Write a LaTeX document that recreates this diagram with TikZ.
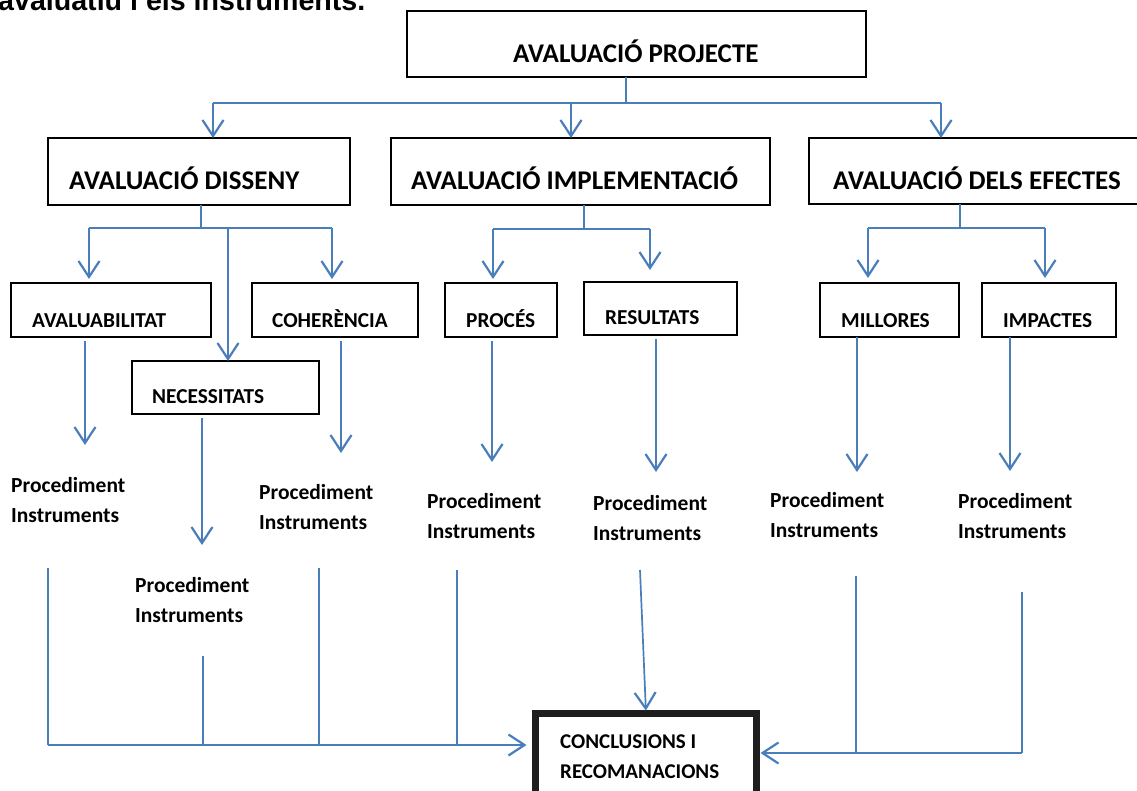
\documentclass[tikz,border=0pt]{standalone}
\usepackage{fontspec}
\setmainfont{Carlito}
\newfontfamily\arialfont{Liberation Sans}
\usetikzlibrary{arrows.meta}
\definecolor{lineblue}{RGB}{74,126,187}
\definecolor{darkbox}{RGB}{30,30,30}
\begin{document}
\begin{tikzpicture}[x=1pt,y=-1pt,
  box/.style={draw=black, line width=1.3pt, anchor=north west, inner sep=0pt, outer sep=0pt},
  hA/.style={font=\bfseries\fontsize{27}{31}\selectfont, anchor=base west, inner sep=0pt},
  hB/.style={font=\bfseries\fontsize{21.3}{25}\selectfont, anchor=base west, inner sep=0pt},
  ptxt/.style={font=\bfseries\fontsize{21.5}{26}\selectfont, anchor=base west, inner sep=0pt},
  ctxt/.style={font=\bfseries\fontsize{21}{25}\selectfont, anchor=base west, inner sep=0pt},
  conn/.style={draw=lineblue, line width=2.2pt},
  thinconn/.style={draw=lineblue, line width=1.7pt},
  arr/.style={conn, -{Straight Barb[length=16pt,width=21pt,line width=2.2pt]}},
  thinarr/.style={thinconn, -{Straight Barb[length=16pt,width=21pt,line width=2.2pt]}}
]
\useasboundingbox (0,0) rectangle (1137,791);

% partial title at top
\node[font=\arialfont\bfseries\fontsize{28.6}{31}\selectfont, anchor=base west, inner sep=0pt] (title) at (-2,11) {avaluatiu i els instruments.};

% boxes
\node[box, minimum width=459pt, minimum height=66pt] (top) at (407,11) {};
\node[box, minimum width=302pt, minimum height=67pt] (dis) at (48,138) {};
\node[box, minimum width=379pt, minimum height=67pt] (imp) at (391,138) {};
\node[box, minimum width=340pt, minimum height=66pt] (efe) at (809,138) {};
\node[box, minimum width=200pt, minimum height=54pt] (aval) at (11,283) {};
\node[box, minimum width=166pt, minimum height=54pt] (coh) at (252,283) {};
\node[box, minimum width=187pt, minimum height=53pt] (nec) at (132,361) {};
\node[box, minimum width=112pt, minimum height=54pt] (proc) at (445,283) {};
\node[box, minimum width=153pt, minimum height=53pt] (res) at (584,282) {};
\node[box, minimum width=139pt, minimum height=54pt] (mil) at (820,283) {};
\node[box, minimum width=134pt, minimum height=54pt] (imc) at (982,283) {};
\node[box, draw=darkbox, line width=7pt, minimum width=221pt, minimum height=120pt] (conc) at (535.5,713.5) {};

% box texts
\node[hA] (topt) at (513,63) {AVALUACIÓ PROJECTE};
\node[hA] (dist) at (69,190) {AVALUACIÓ DISSENY};
\node[hA] (impt) at (411,190) {AVALUACIÓ IMPLEMENTACIÓ};
\node[hA] (efet) at (833,190) {AVALUACIÓ DELS EFECTES};
\node[hB] (avalt) at (32,327) {AVALUABILITAT};
\node[hB] (coht) at (272,327) {COHERÈNCIA};
\node[hB] (nect) at (152,403) {NECESSITATS};
\node[hB] (proct) at (466,327) {PROCÉS};
\node[hB] (rest) at (605,325) {RESULTATS};
\node[hB] (milt) at (841,327) {MILLORES};
\node[hB] (imct) at (1003,327) {IMPACTES};
\node[ctxt] (conct1) at (560,748) {CONCLUSIONS I};
\node[ctxt] (conct2) at (560,778) {RECOMANACIONS};

% Procediment / Instruments texts
\node[ptxt] (pa1) at (11,492) {Procediment};
\node[ptxt] (pa2) at (11,522) {Instruments};
\node[ptxt] (pb1) at (135,592) {Procediment};
\node[ptxt] (pb2) at (135,622) {Instruments};
\node[ptxt] (pc1) at (259,499) {Procediment};
\node[ptxt] (pc2) at (259,529) {Instruments};
\node[ptxt] (pd1) at (427,508) {Procediment};
\node[ptxt] (pd2) at (427,538) {Instruments};
\node[ptxt] (pe1) at (593,510) {Procediment};
\node[ptxt] (pe2) at (593,540) {Instruments};
\node[ptxt] (pf1) at (770,507) {Procediment};
\node[ptxt] (pf2) at (770,537) {Instruments};
\node[ptxt] (pg1) at (958,508) {Procediment};
\node[ptxt] (pg2) at (958,538) {Instruments};

% level 0 -> level 1
\coordinate (s0) at (626,103);
\coordinate (t1) at (213,103);
\coordinate (t2) at (571,103);
\coordinate (t3) at (941,103);
\draw[conn] (s0 |- top.south) -- (s0);
\draw[conn] (t1) -- (t3);
\draw[arr] (t1) -- (t1 |- dis.north);
\draw[arr] (t2) -- (t2 |- imp.north);
\draw[arr] (t3) -- (t3 |- efe.north);

% disseny
\coordinate (d0) at (201,228);
\coordinate (d1) at (89,228);
\coordinate (d2) at (228,228);
\coordinate (d3) at (332,228);
\draw[conn] (d0 |- dis.south) -- (d0);
\draw[conn] (d1) -- (d3);
\draw[arr, shorten >=4pt] (d1) -- (d1 |- aval.north);
\draw[arr, shorten >=4pt] (d3) -- (d3 |- coh.north);
\draw[arr] (d2) -- (d2 |- nec.north);

% implementacio
\coordinate (i0) at (584,229);
\coordinate (i1) at (493,229);
\coordinate (i2) at (650,229);
\draw[conn] (i0 |- imp.south) -- (i0);
\draw[conn] (i1) -- (i2);
\draw[arr, shorten >=4pt] (i1) -- (i1 |- proc.north);
\draw[arr, shorten >=12pt] (i2) -- (i2 |- res.north);

% efectes
\coordinate (e0) at (960,228);
\coordinate (e1) at (868,228);
\coordinate (e2) at (1045,228);
\draw[conn] (e0 |- efe.south) -- (e0);
\draw[conn] (e1) -- (e2);
\draw[arr, shorten >=5pt] (e1) -- (e1 |- mil.north);
\draw[arr, shorten >=5pt] (e2) -- (e2 |- imc.north);

% stems to procediment texts
\coordinate (p1) at (85,445);
\coordinate (p2) at (202,545);
\coordinate (p3) at (341,453);
\coordinate (p4) at (492,462);
\coordinate (p5) at (656,472);
\coordinate (p6) at (857,472);
\coordinate (p7) at (1010,471);
\draw[arr] ([yshift=-4pt]p1 |- aval.south) -- (p1);
\draw[arr] ([yshift=-4pt]p2 |- nec.south) -- (p2);
\draw[arr] ([yshift=-4pt]p3 |- coh.south) -- (p3);
\draw[arr] ([yshift=-4pt]p4 |- proc.south) -- (p4);
\draw[arr] ([yshift=-4pt]p5 |- res.south) -- (p5);
\draw[arr] (p6 |- mil.south) -- (p6);
\draw[arr] (p7 |- imc.south) -- (p7);

% bottom collectors, left
\coordinate (b1) at (48,568);
\coordinate (b2) at (203,656);
\coordinate (b3) at (319,568);
\coordinate (b4) at (457,570);
\coordinate (bl) at (48,745);
\draw[thinconn] (b1) -- (b1 |- bl);
\draw[thinconn] (b2) -- (b2 |- bl);
\draw[thinconn] (b3) -- (b3 |- bl);
\draw[thinconn] (b4) -- (b4 |- bl);
\draw[arr, shorten >=9pt] (bl) -- (bl -| conc.west);

% resultats collector
\coordinate (r1) at (640,570);
\draw[thinarr, shorten >=3pt] (r1) -- (conc.north);

% bottom collectors, right
\coordinate (c1) at (856,576);
\coordinate (c2) at (1022,592);
\coordinate (br) at (1022,753);
\draw[thinconn] (c1) -- (c1 |- br);
\draw[thinconn] (c2) -- (br);
\draw[arr, shorten >=4pt] (br) -- (br -| conc.east);
\end{tikzpicture}
\end{document}
